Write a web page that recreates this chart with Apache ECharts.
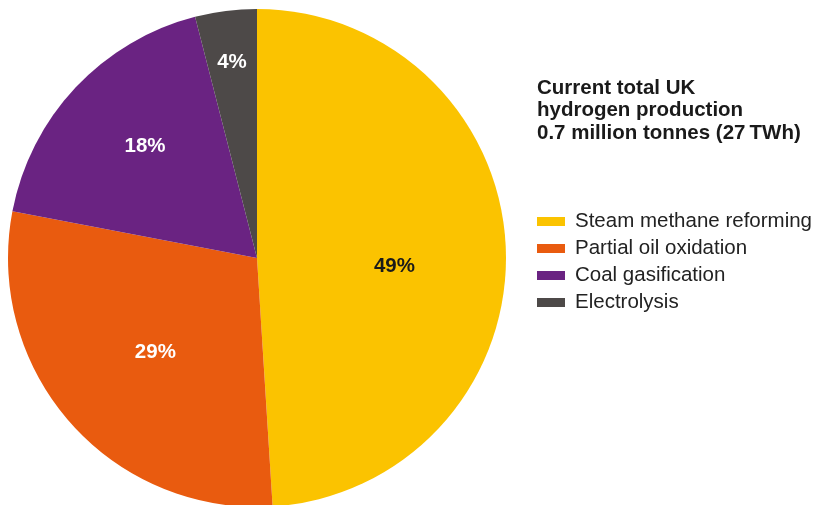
<!DOCTYPE html>
<html><head><meta charset="utf-8">
<script src="https://cdn.jsdelivr.net/npm/echarts@6/dist/echarts.min.js"></script>
<style>html,body{margin:0;padding:0;background:#fff}#c{width:815px;height:505px}</style>
</head><body><div id="c"></div>
<script>
const categories = ['Steam methane reforming', 'Partial oil oxidation', 'Coal gasification', 'Electrolysis'];
const values = [49, 29, 18, 4];
const colors = ['#FBC300', '#E95B0F', '#6A2382', '#4D4948'];
const labelColors = ['#1a1a1a', '#ffffff', '#ffffff', '#ffffff'];
const labelOffsets = [[10, 12], [-6, 10], [-19, -24], [-9, -69]];
const titleText = 'Current total UK\nhydrogen production\n0.7 million tonnes (27\u2009TWh)';

const chart = echarts.init(document.getElementById('c'), null, {renderer: 'canvas'});
chart.setOption({
  animation: false,
  title: {
    text: titleText,
    left: 537, top: 77, padding: 0,
    textStyle: {fontFamily: 'Liberation Sans, Arial, sans-serif', fontSize: 20.5, fontWeight: 'bold', color: '#1a1a1a', lineHeight: 22.5}
  },
  legend: {
    orient: 'vertical', left: 537, top: 211, padding: 0,
    itemWidth: 28, itemHeight: 9, itemGap: 6,
    icon: 'rect',
    textStyle: {fontFamily: 'Liberation Sans, Arial, sans-serif', fontSize: 20.5, color: '#222', lineHeight: 20, padding: [0,0,0,5]},
    data: categories
  },
  series: [{
    type: 'pie',
    center: [257, 258],
    radius: [0, 249],
    startAngle: 90,
    clockwise: true,
    silent: true,
    labelLine: {show: false},
    itemStyle: {borderWidth: 0},
    data: categories.map((n, i) => ({
      name: n, value: values[i],
      itemStyle: {color: colors[i]},
      label: {
        show: true, position: 'inside',
        formatter: values[i] + '%',
        color: labelColors[i],
        fontFamily: 'Liberation Sans, Arial, sans-serif',
        fontSize: 20.5, fontWeight: 'bold',
        textBorderWidth: 0,
        offset: labelOffsets[i]
      }
    }))
  }]
});
</script></body></html>
